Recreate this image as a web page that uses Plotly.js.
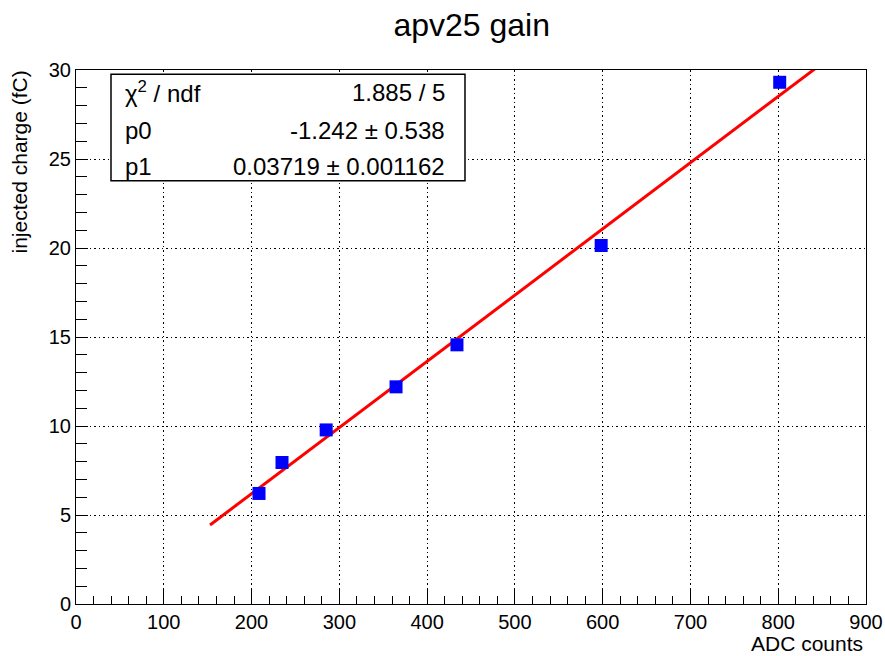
<!DOCTYPE html>
<html>
<head>
<meta charset="utf-8">
<script src="https://cdn.plot.ly/plotly-3.0.1.min.js"></script>
<style>html,body{margin:0;padding:0;background:#fff;}</style>
</head>
<body>
<div id="chart" style="width:885px;height:656px;"></div>
<script>
// Measured data points (ADC counts vs injected charge)
const adcCounts = [208.5, 234.7, 285.0, 364.6, 434.0, 598.3, 801.7];
const chargeFC  = [6.21, 7.95, 9.78, 12.2, 14.56, 20.14, 29.31];

// Fit line endpoints (pol1 fit drawn over the fit range)
const fitX = [152.7, 850.0];
const fitY = [4.44, 30.37];

// Fit statistics box
const statLabels = ['χ<sup>2</sup> / ndf', 'p0', 'p1'];
const statValues = ['1.885 / 5', '-1.242 ± 0.538', '0.03719 ± 0.001162'];

const xTicks = [0, 100, 200, 300, 400, 500, 600, 700, 800, 900];
const yTicks = [0, 5, 10, 15, 20, 25, 30];

const FONT = 'Liberation Sans, Arial, Helvetica, sans-serif';

const traces = [
  {
    x: fitX, y: fitY, mode: 'lines', type: 'scatter',
    line: {color: '#ff0000', width: 3}, hoverinfo: 'skip', showlegend: false
  },
  {
    x: adcCounts, y: chargeFC, mode: 'markers', type: 'scatter',
    marker: {symbol: 'square', size: 13, color: '#0000ff', line: {width: 0}},
    showlegend: false
  }
];

const rowY = [0.9588, 0.8876, 0.8184];
const annotations = [];
statLabels.forEach((t, i) => {
  annotations.push({xref: 'paper', yref: 'paper', x: 0.060, y: rowY[i], xanchor: 'left', yanchor: 'middle',
    text: t, showarrow: false, font: {family: FONT, size: 24, color: '#000'}});
  annotations.push({xref: 'paper', yref: 'paper', x: 0.4696, y: rowY[i], xanchor: 'right', yanchor: 'middle',
    text: statValues[i], showarrow: false, font: {family: FONT, size: 24, color: '#000'}});
});
annotations.push({xref: 'paper', yref: 'paper', x: 0.9987, y: -0.0735, xanchor: 'right', yanchor: 'middle',
  text: 'ADC counts', showarrow: false, font: {family: FONT, size: 21, color: '#000'}});
annotations.push({xref: 'paper', yref: 'paper', x: -0.0709, y: 1.0037, xanchor: 'center', yanchor: 'top',
  textangle: -90, text: 'injected charge (fC)', showarrow: false, font: {family: FONT, size: 21, color: '#000'}});

const layout = {
  width: 885, height: 656,
  margin: {l: 76, r: 19, t: 70, b: 52, pad: 0},
  paper_bgcolor: '#ffffff', plot_bgcolor: '#ffffff',
  font: {family: FONT, size: 20, color: '#000'},
  title: {text: 'apv25 gain', x: 0.533, xanchor: 'center', y: 0.962, yanchor: 'middle',
    font: {family: FONT, size: 32, color: '#000'}},
  xaxis: {
    range: [0, 900], tickvals: xTicks, ticktext: xTicks.map(String),
    ticks: 'inside', ticklen: 16, tickwidth: 1, tickcolor: '#000',
    minor: {dtick: 20, ticks: 'inside', ticklen: 8, tickwidth: 1, tickcolor: '#000', showgrid: false},
    showgrid: true, gridcolor: '#000', gridwidth: 1, griddash: '1.5px,3px',
    showline: true, linecolor: '#000', linewidth: 1, mirror: true,
    zeroline: false, tickfont: {family: FONT, size: 20, color: '#000'}, fixedrange: true
  },
  yaxis: {
    range: [0, 30], tickvals: yTicks, ticktext: yTicks.map(String),
    ticks: 'inside', ticklen: 12, tickwidth: 1, tickcolor: '#000',
    minor: {dtick: 1, ticks: 'inside', ticklen: 11, tickwidth: 1, tickcolor: '#000', showgrid: false},
    showgrid: true, gridcolor: '#000', gridwidth: 1, griddash: '1.5px,3px',
    showline: true, linecolor: '#000', linewidth: 1, mirror: true,
    zeroline: false, tickfont: {family: FONT, size: 20, color: '#000'}, fixedrange: true
  },
  shapes: [{
    type: 'rect', xref: 'paper', yref: 'paper', x0: 0.0443, x1: 0.4924, y0: 0.7927, y1: 0.992,
    line: {color: '#000', width: 1.5}, fillcolor: '#ffffff', layer: 'above'
  }],
  annotations: annotations,
  showlegend: false
};

Plotly.newPlot('chart', traces, layout, {displayModeBar: false, staticPlot: true});
</script>
</body>
</html>
